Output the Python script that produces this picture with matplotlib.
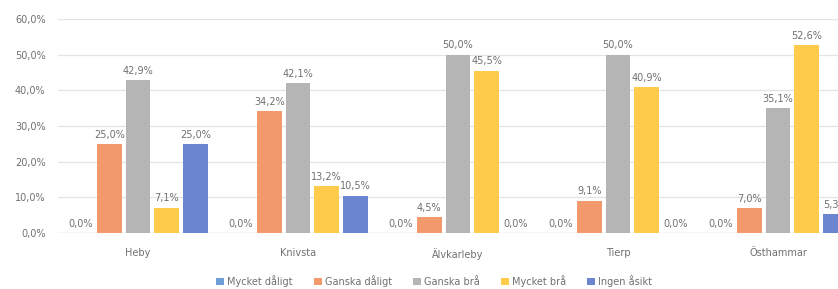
import matplotlib.pyplot as plt
import numpy as np

kommuner = ['Heby', 'Knivsta', 'Älvkarleby', 'Tierp', 'Östhammar']
serier = ['Mycket dåligt', 'Ganska dåligt', 'Ganska brå', 'Mycket brå', 'Ingen åsikt']
mycket_daligt = [0.0, 0.0, 0.0, 0.0, 0.0]
ganska_daligt = [25.0, 34.2, 4.5, 9.1, 7.0]
ganska_bra = [42.9, 42.1, 50.0, 50.0, 35.1]
mycket_bra = [7.1, 13.2, 45.5, 40.9, 52.6]
ingen_asikt = [25.0, 10.5, 0.0, 0.0, 5.3]
farger = ['#6F9FD8', '#F29A6E', '#B5B5B5', '#FFCB4A', '#6C85D0']

plt.rcParams['font.family'] = ['DejaVu Sans']
fig = plt.figure(figsize=(8.38, 2.89), dpi=100)
ax = fig.add_axes([58 / 838, 56 / 289, 800 / 838, 214 / 289])

x = np.arange(len(kommuner))
steg = 0.18
bredd = 0.155
data = [mycket_daligt, ganska_daligt, ganska_bra, mycket_bra, ingen_asikt]
for i, (namn, vals) in enumerate(zip(serier, data)):
    pos = x + (i - 2) * steg
    ax.bar(pos, [v / 100 for v in vals], width=bredd, color=farger[i], label=namn, zorder=3)
    for p, v in zip(pos, vals):
        ax.text(p, v / 100 + 0.012, ('%.1f%%' % v).replace('.', ','), ha='center', va='bottom',
                fontsize=7, color='#707070')

ax.set_xlim(-0.5, 4.5)
ax.set_ylim(0, 0.6)
ax.set_yticks(np.arange(0, 0.61, 0.1))
ax.set_yticklabels([('%.1f%%' % (t * 100)).replace('.', ',') for t in np.arange(0, 0.61, 0.1)],
                   fontsize=7, color='#707070')
ax.set_xticks(x)
ax.set_xticklabels(kommuner, fontsize=7, color='#707070')
ax.tick_params(axis='y', length=0, pad=9)
ax.tick_params(axis='x', length=0, pad=11)
ax.grid(axis='y', color='#E4E4E4', lw=0.9, zorder=0)
for s in ax.spines.values():
    s.set_visible(False)
ax.axhline(0, color='#DADADA', lw=0.9, zorder=2)

leg = fig.legend(loc='center', bbox_to_anchor=(434 / 838, 8 / 289), ncol=5, frameon=False,
                 fontsize=7, handlelength=0.8, handleheight=0.8, handletextpad=0.3,
                 columnspacing=2.2, labelcolor='#707070')

fig.savefig('out.png', dpi=100)
